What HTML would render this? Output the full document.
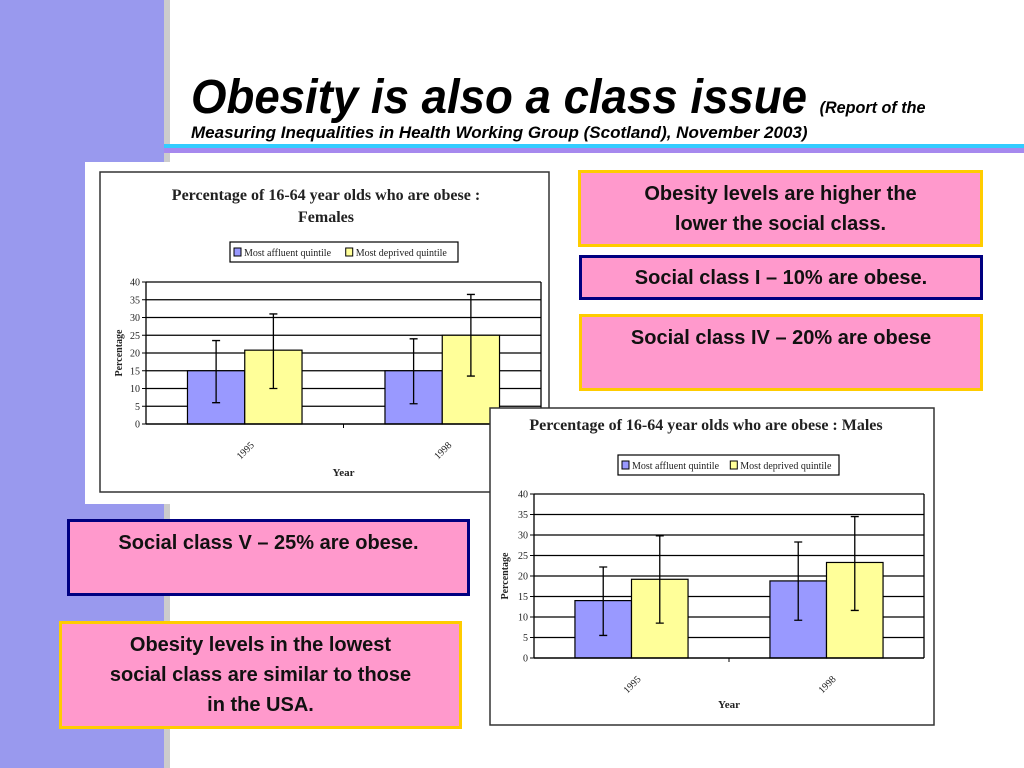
<!DOCTYPE html>
<html><head><meta charset="utf-8"><style>
body{margin:0;width:1024px;height:768px;overflow:hidden;background:#fff;font-family:"Liberation Sans",sans-serif;position:relative}
.box{position:absolute;background:#ff99cc;box-sizing:border-box;font-weight:bold;font-size:20px;color:#111;text-align:center;line-height:30px;padding-top:6px}
.y{border:3px solid #ffcc00}.n{border:3px solid #000080}
</style></head><body>
<div style="position:absolute;left:0;top:0;width:164px;height:768px;background:#9999ee"></div>
<div style="position:absolute;left:164px;top:0;width:6px;height:768px;background:#cccccc"></div>
<div style="position:absolute;left:164px;top:144px;width:860px;height:4px;background:#33ccff"></div>
<div style="position:absolute;left:164px;top:148px;width:860px;height:5px;background:#a689ee"></div>
<div style="position:absolute;left:191px;top:70px;white-space:nowrap;font-style:italic;font-weight:bold;font-size:48px;color:#000;transform:scaleX(0.95);transform-origin:0 0">Obesity is also a class issue <span style="font-size:17px">(Report of the</span></div>
<div style="position:absolute;left:191px;top:123px;white-space:nowrap;font-style:italic;font-weight:bold;font-size:17px;color:#000">Measuring Inequalities in Health Working Group (Scotland), November 2003)</div>

<div class="box y" style="left:578px;top:170px;width:405px;height:77px">Obesity levels are higher the<br>lower the social class.</div>
<div class="box n" style="left:579px;top:255px;width:404px;height:45px;padding-top:5px">Social class I – 10% are obese.</div>
<div class="box y" style="left:579px;top:314px;width:404px;height:77px">Social class IV – 20% are obese</div>
<div class="box n" style="left:67px;top:519px;width:403px;height:77px">Social class V – 25% are obese.</div>
<div class="box y" style="left:59px;top:621px;width:403px;height:108px">Obesity levels in the lowest<br>social class are similar to those<br>in the USA.</div>

<svg id="svg" width="1024" height="768" style="position:absolute;left:0;top:0" font-family="'Liberation Serif',serif"></svg>
<script>
const years=["1995","1998"];
const femAffluent=[15,15];
const femDeprived=[20.8,25];
const femAffErr=[[6,23.5],[5.7,24]];
const femDepErr=[[10,31],[13.5,36.5]];
const maleAffluent=[14,18.8];
const maleDeprived=[19.2,23.3];
const maleAffErr=[[5.5,22.2],[9.2,28.3]];
const maleDepErr=[[8.5,29.8],[11.6,34.5]];
const yTicks=[0,5,10,15,20,25,30,35,40];
const seriesNames=["Most affluent quintile","Most deprived quintile"];

const NS="http://www.w3.org/2000/svg";
const svg=document.getElementById('svg');
function mk(tag,a,parent,txt){const e=document.createElementNS(NS,tag);for(const k in a)e.setAttribute(k,a[k]);if(txt!=null)e.textContent=txt;(parent||svg).appendChild(e);return e;}

function chart(o){
  const g=mk('g',{});
  
  
  const bg=mk('rect',{x:o.bx,y:o.by,width:o.bw,height:o.bh,fill:'#fff',stroke:o.outer?'#333':'none','stroke-width':1.5},g);
  
  
  if(o.inner){const r=mk('rect',o.inner,g);}
  o.title.forEach((t,i)=>{const e=mk('text',{x:o.tx,y:o.ty+i*22,'text-anchor':'middle','font-size':16,'font-weight':'bold',fill:'#222'},g,t);});
  const lg=mk('g',{},g);
  
  
  mk('rect',{x:o.lx,y:o.ly,width:o.lw,height:20,fill:'#fff',stroke:'#000','stroke-width':1.2},lg);
  const cols=['#9999ff','#ffff99'];
  seriesNames.forEach((s,i)=>{
    const ex=o.lx+4+i*o.lw*0.49;
    const ent=mk('g',{},lg);
    
    
    mk('rect',{x:ex,y:o.ly+6,width:7,height:8,fill:cols[i],stroke:'#000','stroke-width':1},ent);
    mk('text',{x:ex+10,y:o.ly+14,'font-size':10,fill:'#222'},ent,s);
  });
  const X0=o.px,X1=o.px2,Y0=o.py0,Y1=o.py40;
  const ys=v=>Y0+(Y1-Y0)*v/40;
  yTicks.forEach(t=>{
    const y=ys(t);
    if(t>0){const l=mk('line',{x1:X0,x2:X1,y1:y,y2:y,stroke:'#000','stroke-width':1.3},g);}
    mk('line',{x1:X0-4,x2:X0,y1:y,y2:y,stroke:'#000'},g);
    const tl=mk('text',{x:X0-6,y:y+3.5,'text-anchor':'end','font-size':10,fill:'#222'},g,t);
    
  });
  mk('line',{x1:X0,x2:X0,y1:Y1,y2:Y0,stroke:'#000','stroke-width':1.3},g);
  mk('line',{x1:X1,x2:X1,y1:Y1,y2:Y0,stroke:'#000','stroke-width':1.3},g);
  const cw=(X1-X0)/years.length, bw=cw*0.29;
  years.forEach((yr,i)=>{
    const c=X0+cw*(i+0.5);
    [[o.aff,o.affE,cols[0],c-bw,'affluent'],[o.dep,o.depE,cols[1],c,'deprived']].forEach(([vals,errs,col,x,nm])=>{
      const b=mk('rect',{x:x,y:ys(vals[i]),width:bw,height:Y0-ys(vals[i]),fill:col,stroke:'#000','stroke-width':1.2},g);
      
      
      const ex=x+bw/2, lo=ys(errs[i][0]), hi=ys(errs[i][1]);
      const eb=mk('path',{d:`M${ex},${lo}V${hi}M${ex-4},${lo}H${ex+4}M${ex-4},${hi}H${ex+4}`,stroke:'#000','stroke-width':1.3,fill:'none'},g);
      
      
    });
    const xl=mk('text',{x:c,y:Y0+30,'text-anchor':'middle','font-size':10,fill:'#222',transform:`rotate(-45 ${c} ${Y0+26})`},g,yr);
    
    if(i>0)mk('line',{x1:X0+cw*i,x2:X0+cw*i,y1:Y0,y2:Y0+4,stroke:'#000'},g);
  });
  mk('line',{x1:X0,x2:X1,y1:Y0,y2:Y0,stroke:'#000','stroke-width':1.5},g);
  const xt=mk('text',{x:(X0+X1)/2,y:o.xty,'text-anchor':'middle','font-size':11,'font-weight':'bold',fill:'#222'},g,'Year');
  
  const yl=(Y0+Y1)/2;
  const yt=mk('text',{x:o.ytx,y:yl,'text-anchor':'middle','font-size':10,'font-weight':'bold',fill:'#222',transform:`rotate(-90 ${o.ytx} ${yl})`},g,'Percentage');
  
}
chart({name:'female-obesity-chart',bx:85,by:162,bw:470,bh:342,outer:false,
  inner:{x:100,y:172,width:449,height:320,fill:'none',stroke:'#333','stroke-width':1.5},
  title:['Percentage of 16-64 year olds who are obese :','Females'],tx:326,ty:200,
  lx:230,ly:242,lw:228,px:146,px2:541,py0:424,py40:282,xty:476,ytx:122,
  aff:femAffluent,dep:femDeprived,affE:femAffErr,depE:femDepErr});
chart({name:'male-obesity-chart',bx:490,by:408,bw:444,bh:317,outer:true,
  title:['Percentage of 16-64 year olds who are obese : Males'],tx:706,ty:430,
  lx:618,ly:455,lw:221,px:534,px2:924,py0:658,py40:494,xty:708,ytx:508,
  aff:maleAffluent,dep:maleDeprived,affE:maleAffErr,depE:maleDepErr});
</script>
</body></html>
